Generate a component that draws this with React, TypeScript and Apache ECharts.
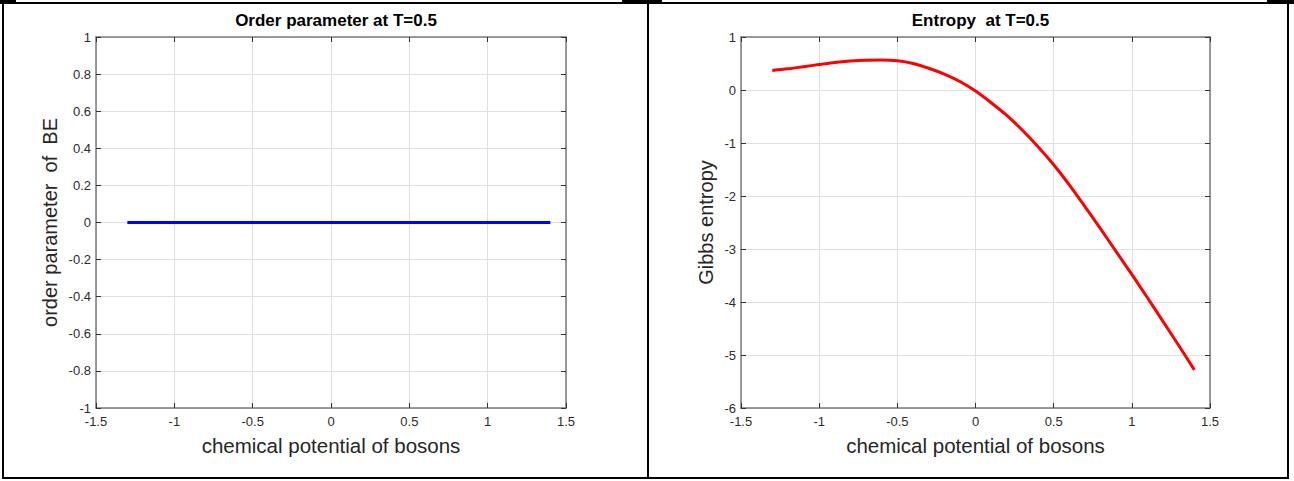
import React, { useEffect, useRef } from "react";
import * as echarts from "echarts";

const muTicks = [-1.5, -1, -0.5, 0, 0.5, 1, 1.5];
const orderTicks = [-1, -0.8, -0.6, -0.4, -0.2, 0, 0.2, 0.4, 0.6, 0.8, 1];
const entropyTicks = [-6, -5, -4, -3, -2, -1, 0, 1];

const muValues = [
  -1.3, -1.2, -1.1, -1.0, -0.9, -0.8, -0.7, -0.6, -0.5, -0.4, -0.3, -0.2, -0.1, 0.0,
  0.1, 0.2, 0.3, 0.4, 0.5, 0.6, 0.7, 0.8, 0.9, 1.0, 1.1, 1.2, 1.3, 1.4,
];
const orderValues = [
  0, 0, 0, 0, 0, 0, 0, 0, 0, 0, 0, 0, 0, 0,
  0, 0, 0, 0, 0, 0, 0, 0, 0, 0, 0, 0, 0, 0,
];
const entropyValues = [
  0.37, 0.4, 0.44, 0.48, 0.52, 0.545, 0.56, 0.565, 0.55, 0.5, 0.41, 0.3, 0.16, -0.02,
  -0.24, -0.48, -0.76, -1.07, -1.41, -1.79, -2.2, -2.62, -3.05, -3.48, -3.92, -4.37, -4.82, -5.28,
];

const titles = ["Order parameter at T=0.5", "Entropy  at T=0.5"];
const xName = "chemical potential of bosons";
const yNames = ["order parameter  of  BE", "Gibbs entropy"];

const FONT = "'Liberation Sans', Arial, Helvetica, sans-serif";
const AXIS_COLOR = "#7a7a7a";
const TEXT_COLOR = "#2b2b2b";
const GRID_COLOR = "#e0e0e0";

function App() {
  const ref = useRef<HTMLDivElement>(null);
  useEffect(() => {
    document.body.style.margin = "0";
    const chart = echarts.init(ref.current!, null, { renderer: "svg" });
    const grids = [
      { left: 96, top: 37, width: 470, height: 371 },
      { left: 741, top: 37, width: 469, height: 371 },
    ];
    const yTickSets = [orderTicks, entropyTicks];
    const yGaps = [36, 25];
    const centers = grids.map((g) => g.left + g.width / 2);

    const xAxes: any[] = [];
    const yAxes: any[] = [];
    grids.forEach((g, i) => {
      const xInterval = muTicks[1] - muTicks[0];
      xAxes.push({
        type: "value",
        gridIndex: i,
        position: "bottom",
        min: muTicks[0],
        max: muTicks[muTicks.length - 1],
        interval: xInterval,
        name: xName,
        nameLocation: "middle",
        nameGap: 27,
        nameTextStyle: { fontFamily: FONT, fontSize: 20.5, color: "#262626" },
        axisLine: { onZero: false, lineStyle: { color: AXIS_COLOR, width: 1.5 } },
        axisTick: { inside: true, length: 5, lineStyle: { color: "#333" } },
        axisLabel: { fontFamily: FONT, fontSize: 13, color: TEXT_COLOR, margin: 7 },
        splitLine: { show: true, lineStyle: { color: GRID_COLOR, width: 1 } },
      });
      xAxes.push({
        type: "value",
        gridIndex: i,
        position: "top",
        min: muTicks[0],
        max: muTicks[muTicks.length - 1],
        interval: xInterval,
        axisLine: { onZero: false, lineStyle: { color: AXIS_COLOR, width: 1.5 } },
        axisTick: { inside: true, length: 5, lineStyle: { color: "#333" } },
        axisLabel: { show: false },
        splitLine: { show: false },
      });
      const yt = yTickSets[i];
      const yInterval = Math.round((yt[1] - yt[0]) * 10) / 10;
      yAxes.push({
        type: "value",
        gridIndex: i,
        position: "left",
        min: yt[0],
        max: yt[yt.length - 1],
        interval: yInterval,
        name: yNames[i],
        nameLocation: "middle",
        nameGap: yGaps[i],
        nameTextStyle: { fontFamily: FONT, fontSize: 20, color: "#262626" },
        axisLine: { onZero: false, lineStyle: { color: AXIS_COLOR, width: 1.5 } },
        axisTick: { inside: true, length: 5, lineStyle: { color: "#333" } },
        axisLabel: { fontFamily: FONT, fontSize: 13, color: TEXT_COLOR, margin: 5 },
        splitLine: { show: true, lineStyle: { color: GRID_COLOR, width: 1 } },
      });
      yAxes.push({
        type: "value",
        gridIndex: i,
        position: "right",
        min: yt[0],
        max: yt[yt.length - 1],
        interval: yInterval,
        axisLine: { onZero: false, lineStyle: { color: AXIS_COLOR, width: 1.5 } },
        axisTick: { inside: true, length: 5, lineStyle: { color: "#333" } },
        axisLabel: { show: false },
        splitLine: { show: false },
      });
    });

    chart.setOption({
      animation: false,
      backgroundColor: "#ffffff",
      title: titles.map((t, i) => ({
        text: t,
        left: centers[i],
        top: 7,
        textAlign: "center",
        textStyle: { fontFamily: FONT, fontSize: 17, fontWeight: "bold", color: "#000" },
      })),
      grid: grids,
      xAxis: xAxes,
      yAxis: yAxes,
      series: [
        {
          type: "line",
          xAxisIndex: 0,
          yAxisIndex: 0,
          data: muValues.map((m, k) => [m, orderValues[k]]),
          showSymbol: false,
          lineStyle: { color: "#0000ff", width: 3 },
        },
        {
          type: "line",
          xAxisIndex: 2,
          yAxisIndex: 2,
          smooth: 0.3,
          data: muValues.map((m, k) => [m, entropyValues[k]]),
          showSymbol: false,
          lineStyle: { color: "#ff0000", width: 3 },
        },
      ],
      graphic: [
        {
          type: "rect",
          shape: { x: 3, y: 3, width: 1285, height: 475 },
          style: { fill: "none", stroke: "#000", lineWidth: 2 },
          silent: true,
        },
        {
          type: "line",
          shape: { x1: 648, y1: 2, x2: 648, y2: 479 },
          style: { stroke: "#000", lineWidth: 2 },
          silent: true,
        },
        { type: "rect", shape: { x: 0, y: 0, width: 16, height: 4 }, style: { fill: "#000" }, silent: true },
        { type: "rect", shape: { x: 622, y: 0, width: 40, height: 4 }, style: { fill: "#000" }, silent: true },
        { type: "rect", shape: { x: 1267, y: 0, width: 27, height: 4 }, style: { fill: "#000" }, silent: true },
      ],
    });
    return () => chart.dispose();
  }, []);
  return <div ref={ref} style={{ width: 1294, height: 481 }} />;
}

export default App;
